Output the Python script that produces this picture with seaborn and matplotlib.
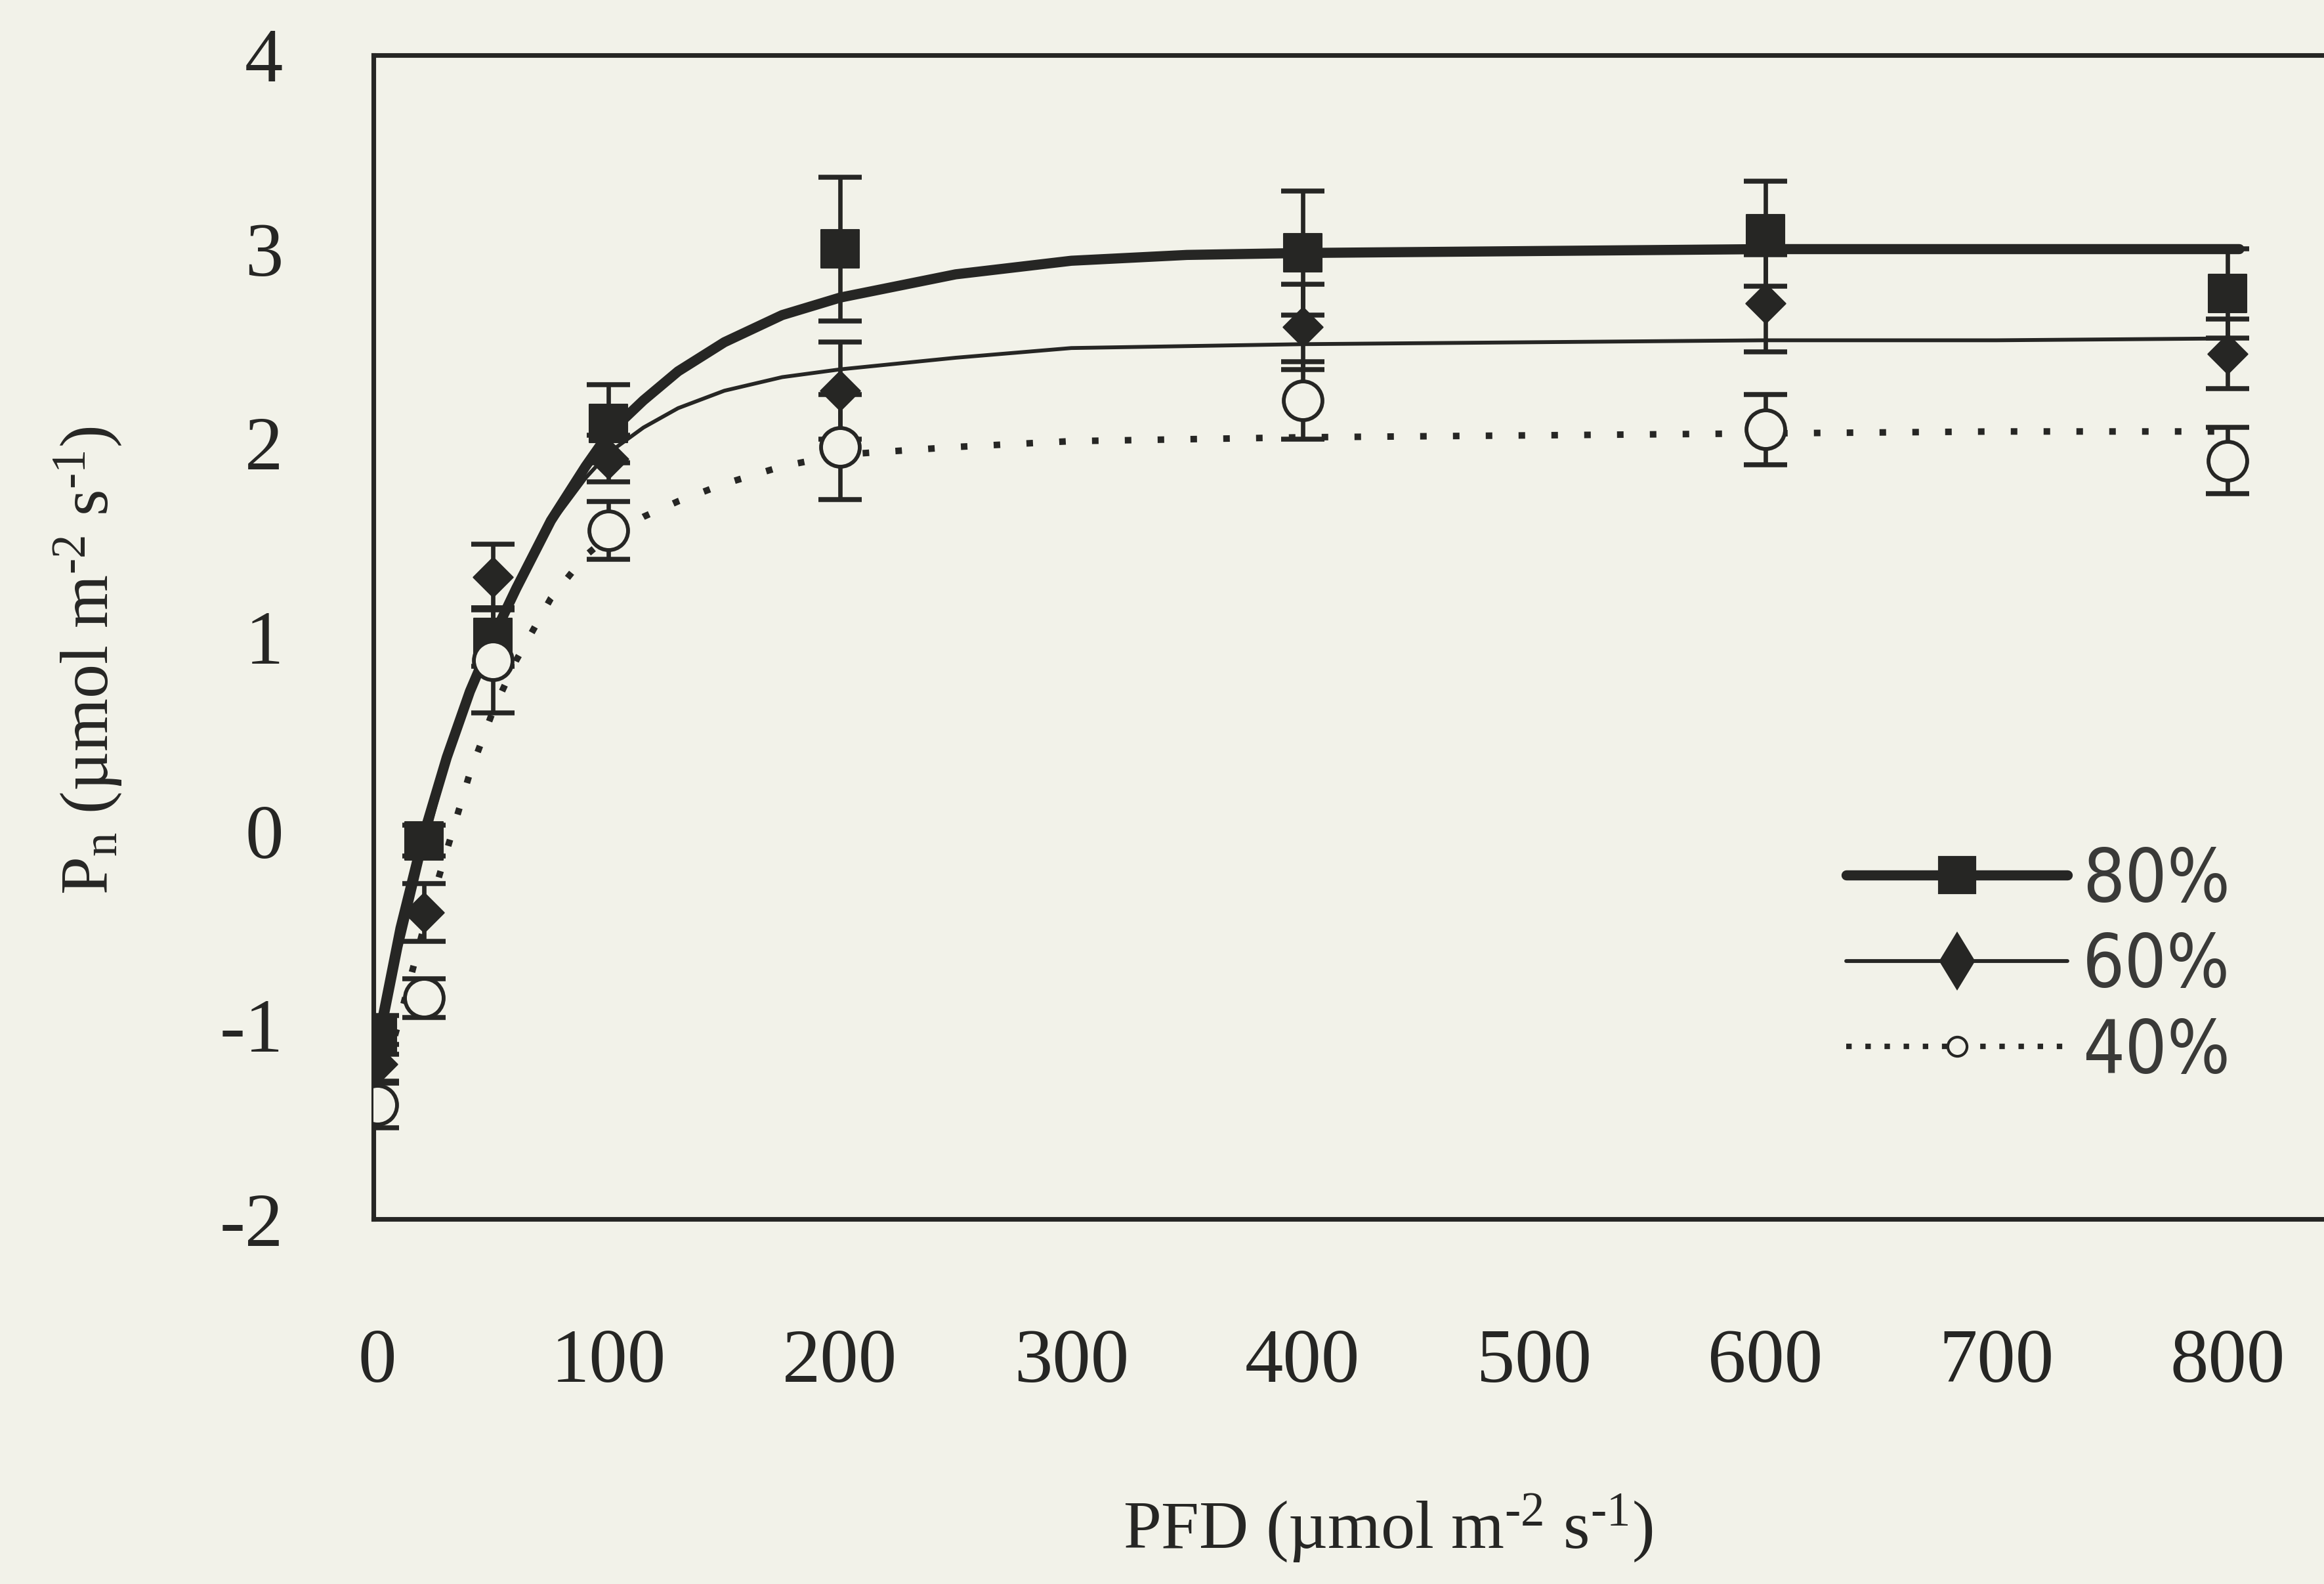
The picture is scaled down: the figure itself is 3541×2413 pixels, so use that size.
import numpy as np
import pandas as pd
import seaborn as sns
from matplotlib import pyplot as plt
from matplotlib.lines import Line2D

# measured points (PFD, Pn) with error bars
pfd = [0, 20, 50, 100, 200, 400, 600, 800]
pn_80 = [-1.05, -0.05, 1.00, 2.10, 3.00, 2.98, 3.08, 2.77]
err_80 = [0.10, 0.08, 0.15, 0.20, 0.37, 0.32, 0.27, 0.23]
pn_60 = [-1.20, -0.42, 1.31, 1.92, 2.27, 2.60, 2.72, 2.46]
err_60 = [0.10, 0.15, 0.17, 0.12, 0.25, 0.22, 0.25, 0.18]
pn_40 = [-1.41, -0.86, 0.88, 1.55, 1.98, 2.22, 2.07, 1.91]
err_40 = [0.12, 0.10, 0.27, 0.15, 0.27, 0.20, 0.18, 0.17]

# fitted curves
curve_x = [0, 10, 20, 30, 40, 50, 60, 75, 90, 100, 115, 130, 150, 175, 200, 250, 300, 350, 400, 500, 600, 700, 805]
curve_80 = [-1.10, -0.50, -0.02, 0.38, 0.72, 1.00, 1.25, 1.60, 1.88, 2.05, 2.22, 2.37, 2.52, 2.66, 2.75, 2.87, 2.94, 2.97, 2.98, 2.99, 3.00, 3.00, 3.00]
curve_60 = [-1.20, -0.60, -0.10, 0.35, 0.72, 1.02, 1.27, 1.58, 1.82, 1.95, 2.08, 2.18, 2.27, 2.34, 2.38, 2.44, 2.49, 2.50, 2.51, 2.52, 2.53, 2.53, 2.54]
curve_40 = [-1.38, -0.95, -0.50, -0.10, 0.30, 0.62, 0.88, 1.20, 1.42, 1.52, 1.62, 1.70, 1.79, 1.88, 1.94, 1.98, 2.01, 2.02, 2.03, 2.04, 2.05, 2.06, 2.06]

labels = ["80%", "60%", "40%"]
x_ticks = [0, 100, 200, 300, 400, 500, 600, 700, 800]
y_ticks = [-2, -1, 0, 1, 2, 3, 4]

sns.set_theme(style="white")
plt.rcParams['font.family'] = ['Liberation Serif', 'DejaVu Serif']
plt.rcParams['mathtext.fontset'] = 'custom'
plt.rcParams['mathtext.rm'] = 'Liberation Serif'
plt.rcParams['mathtext.it'] = 'Liberation Serif:italic'
plt.rcParams['axes.unicode_minus'] = False

bg = '#f2f2e9'
ink = '#262624'

fig = plt.figure(figsize=(3541 / 300, 2413 / 300), dpi=300, facecolor=bg)
ax = fig.add_axes([0.1607, 0.2304, 0.8393, 0.7348], facecolor=bg)

# curves
sns.lineplot(x=curve_x, y=curve_80, ax=ax, color=ink, linewidth=3.7, zorder=3)
sns.lineplot(x=curve_x, y=curve_60, ax=ax, color=ink, linewidth=1.4, zorder=3)
sns.lineplot(x=curve_x, y=curve_40, ax=ax, color=ink, linewidth=2.4, linestyle=(0, (1, 4)), zorder=3)

# error bars
for pn, err in [(pn_80, err_80), (pn_60, err_60), (pn_40, err_40)]:
    ax.errorbar(pfd, pn, yerr=err, fmt='none', ecolor=ink, elinewidth=1.6,
                capsize=8, capthick=1.8, zorder=2)

# markers
sns.scatterplot(x=pfd, y=pn_80, ax=ax, marker='s', s=190, color=ink, edgecolor=ink, linewidth=0.5, zorder=4)
sns.scatterplot(x=pfd, y=pn_60, ax=ax, marker='D', s=105, color=ink, edgecolor=ink, linewidth=0.5, zorder=5)
sns.scatterplot(x=pfd, y=pn_40, ax=ax, marker='o', s=200, color=bg, edgecolor=ink, linewidth=1.4, zorder=6)

ax.set_xlim(-1.7, 841.6)
ax.set_ylim(-2, 4)
ax.set_xticks(x_ticks)
ax.set_yticks(y_ticks)
ax.set_xticklabels([str(t) for t in x_ticks])
ax.set_yticklabels([str(t) for t in y_ticks])
ax.tick_params(axis='x', direction='in', length=10, width=1.4, pad=40, labelsize=28, colors=ink)
ax.tick_params(axis='y', direction='in', length=12, width=1.4, pad=33, labelsize=28, colors=ink)
ax.tick_params(top=False, right=False)

for side in ['left', 'bottom', 'top']:
    ax.spines[side].set_linewidth(1.7)
    ax.spines[side].set_color(ink)
ax.spines['right'].set_visible(False)

ax.set_xlabel("PFD (µmol m$^{\\text{-2}}$ s$^{\\text{-1}}$)", fontsize=25, color=ink)
ax.set_ylabel("P$_\\mathrm{n}$ (µmol m$^{\\text{-2}}$ s$^{\\text{-1}}$)", fontsize=25, color=ink)
ax.xaxis.set_label_coords(0.52, -0.235)
ax.yaxis.set_label_coords(-0.128, 0.48)

handles = [
    Line2D([], [], color=ink, linewidth=3.7, marker='s', markersize=13),
    Line2D([], [], color=ink, linewidth=1.4, marker='d', markersize=14),
    Line2D([], [], color=ink, linewidth=2.0, linestyle=(0, (1, 2.5)), marker='o',
           markersize=7, markerfacecolor=bg, markeredgecolor=ink),
]
ax.legend(handles, labels, loc='center left', bbox_to_anchor=(0.755, 0.217),
          frameon=False, borderpad=0, borderaxespad=0, handlelength=3.0,
          handletextpad=0.2, labelspacing=0.2, numpoints=1, labelcolor='#3a3a38',
          prop={'family': ['DejaVu Sans'], 'stretch': 'condensed', 'weight': 'light', 'size': 27})

fig.savefig('out.png', dpi=300, facecolor=bg)
